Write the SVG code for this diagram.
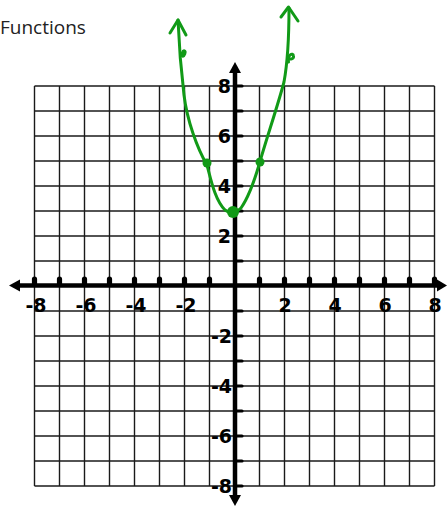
<svg xmlns="http://www.w3.org/2000/svg" width="448" height="507" viewBox="0 0 448 507">
  <style>
    .grid line { stroke: #1a1a1a; stroke-width: 1.4; }
    .axis { stroke: #000; stroke-width: 4.5; fill: none; }
    .lbl { font-family: "DejaVu Sans", "Liberation Sans", sans-serif; font-weight: bold; font-size: 19px; fill: #000; }
    .ylbl { text-anchor: end; }
    .xlbl { text-anchor: middle; }
    .curve { stroke: #119a17; stroke-width: 3; fill: none; stroke-linecap: round; stroke-linejoin: round; }
    .dot { fill: #119a17; }
  </style>
  <defs>
    <path id="ytick" d="M235,-1.6 H242 A1.6,1.6 0 0 1 242,1.6 H235 Z" fill="#000"/>
    <path id="xtick" d="M-2.6,0 V-6 A2.6,2.6 0 0 1 2.6,-6 V0 Z" fill="#000"/>
  </defs>
  <rect width="448" height="507" fill="#fff"/>
  <text id="title" x="0" y="34" font-family="'Open Sans', 'Liberation Sans', sans-serif" font-size="19" fill="#222">Functions</text>

  <g id="grid" class="grid">
    <line x1="34.5" y1="86" x2="34.5" y2="486"/>
    <line x1="59.5" y1="86" x2="59.5" y2="486"/>
    <line x1="84.5" y1="86" x2="84.5" y2="486"/>
    <line x1="109.5" y1="86" x2="109.5" y2="486"/>
    <line x1="134.5" y1="86" x2="134.5" y2="486"/>
    <line x1="159.5" y1="86" x2="159.5" y2="486"/>
    <line x1="184.5" y1="86" x2="184.5" y2="486"/>
    <line x1="209.5" y1="86" x2="209.5" y2="486"/>
    <line x1="234.5" y1="86" x2="234.5" y2="486"/>
    <line x1="259.5" y1="86" x2="259.5" y2="486"/>
    <line x1="284.5" y1="86" x2="284.5" y2="486"/>
    <line x1="309.5" y1="86" x2="309.5" y2="486"/>
    <line x1="334.5" y1="86" x2="334.5" y2="486"/>
    <line x1="359.5" y1="86" x2="359.5" y2="486"/>
    <line x1="384.5" y1="86" x2="384.5" y2="486"/>
    <line x1="409.5" y1="86" x2="409.5" y2="486"/>
    <line x1="434.5" y1="86" x2="434.5" y2="486"/>
    <line x1="34.5" y1="86" x2="434.5" y2="86"/>
    <line x1="34.5" y1="111" x2="434.5" y2="111"/>
    <line x1="34.5" y1="136" x2="434.5" y2="136"/>
    <line x1="34.5" y1="161" x2="434.5" y2="161"/>
    <line x1="34.5" y1="186" x2="434.5" y2="186"/>
    <line x1="34.5" y1="211" x2="434.5" y2="211"/>
    <line x1="34.5" y1="236" x2="434.5" y2="236"/>
    <line x1="34.5" y1="261" x2="434.5" y2="261"/>
    <line x1="34.5" y1="286" x2="434.5" y2="286"/>
    <line x1="34.5" y1="311" x2="434.5" y2="311"/>
    <line x1="34.5" y1="336" x2="434.5" y2="336"/>
    <line x1="34.5" y1="361" x2="434.5" y2="361"/>
    <line x1="34.5" y1="386" x2="434.5" y2="386"/>
    <line x1="34.5" y1="411" x2="434.5" y2="411"/>
    <line x1="34.5" y1="436" x2="434.5" y2="436"/>
    <line x1="34.5" y1="461" x2="434.5" y2="461"/>
    <line x1="34.5" y1="486" x2="434.5" y2="486"/>
  </g>

  <g id="x-axis">
    <line class="axis" x1="18" y1="285.5" x2="440" y2="285.5"/>
    <path d="M9,285.5 L20,279.5 L20,291.5 Z" fill="#000"/>
    <path d="M447,285.5 L437,279.5 L437,291.5 Z" fill="#000"/>
    <g transform="translate(0,285)">
      <use href="#xtick" x="34.5"/><use href="#xtick" x="59.5"/><use href="#xtick" x="84.5"/>
      <use href="#xtick" x="109.5"/><use href="#xtick" x="134.5"/><use href="#xtick" x="159.5"/>
      <use href="#xtick" x="184.5"/><use href="#xtick" x="209.5"/><use href="#xtick" x="259.5"/>
      <use href="#xtick" x="284.5"/><use href="#xtick" x="309.5"/><use href="#xtick" x="334.5"/>
      <use href="#xtick" x="359.5"/><use href="#xtick" x="384.5"/><use href="#xtick" x="409.5"/>
      <use href="#xtick" x="434.5"/>
    </g>
  </g>

  <g id="y-axis">
    <line class="axis" x1="235" y1="70" x2="235" y2="498"/>
    <path d="M235,62 L229,73 L241,73 Z" fill="#000"/>
    <path d="M235,506 L229,495 L241,495 Z" fill="#000"/>
    <use href="#ytick" y="86"/><use href="#ytick" y="111"/><use href="#ytick" y="136"/>
    <use href="#ytick" y="161"/><use href="#ytick" y="186"/><use href="#ytick" y="211"/>
    <use href="#ytick" y="236"/><use href="#ytick" y="261"/><use href="#ytick" y="311"/>
    <use href="#ytick" y="336"/><use href="#ytick" y="361"/><use href="#ytick" y="386"/>
    <use href="#ytick" y="411"/><use href="#ytick" y="436"/><use href="#ytick" y="461"/>
    <use href="#ytick" y="486"/>
  </g>

  <g id="x-labels" class="lbl xlbl">
    <text x="36" y="312">-8</text>
    <text x="86" y="312">-6</text>
    <text x="136" y="312">-4</text>
    <text x="186" y="312">-2</text>
    <text x="285" y="312">2</text>
    <text x="335" y="312">4</text>
    <text x="385" y="312">6</text>
    <text x="435" y="312">8</text>
  </g>

  <g id="y-labels" class="lbl ylbl">
    <text x="231" y="93">8</text>
    <text x="231" y="143">6</text>
    <text x="231" y="193">4</text>
    <text x="231" y="243">2</text>
    <text x="232" y="343">-2</text>
    <text x="232" y="393">-4</text>
    <text x="232" y="443">-6</text>
    <text x="232" y="493">-8</text>
  </g>

  <g id="parabola">
    <path class="curve" d="M178,20 C179,45 181,70 184,95 C187,120 197,148 207,165 C211,180 215,200 225,210 C230,214 236,213 241,208 C248,198 254,182 259,165 C266,140 278,105 284,82 C288,60 289,35 289,8"/>
    <path class="curve" d="M170,33 L178,20 L186,35"/>
    <path class="curve" d="M281,17 L288.5,7 L298,21"/>
    <ellipse class="dot" cx="183.5" cy="53.5" rx="2.8" ry="4.2" transform="rotate(20 183.5 53.5)"/>
    <path class="curve" stroke-width="2" d="M288.5,62 C287,55 293,52 293.5,56 C294,59 290,60 288.5,58"/>
    <circle id="pt-left" class="dot" cx="207" cy="163" r="4.5"/>
    <circle id="pt-right" class="dot" cx="260" cy="162" r="4.5"/>
    <circle id="pt-vertex" class="dot" cx="233" cy="212" r="6"/>
  </g>
</svg>
